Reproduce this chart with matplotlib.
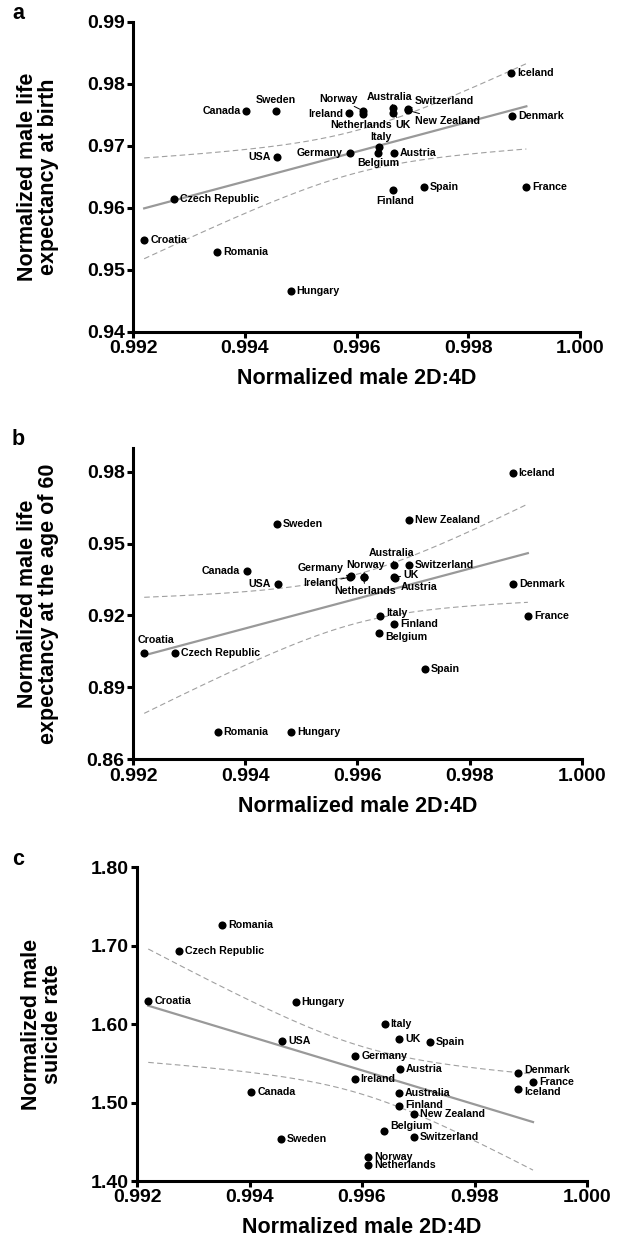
import numpy as np
import matplotlib
matplotlib.use('Agg')
import matplotlib.pyplot as plt

plt.rcParams['font.family'] = ['Liberation Sans', 'DejaVu Sans']
plt.rcParams['font.weight'] = 'bold'
plt.rcParams['axes.labelweight'] = 'bold'

countries = ['Croatia', 'Czech Republic', 'Romania', 'Canada', 'Sweden', 'USA',
             'Hungary', 'Ireland', 'Germany', 'Norway', 'Netherlands', 'Italy',
             'Belgium', 'Australia', 'UK', 'Austria', 'Finland', 'Switzerland',
             'New Zealand', 'Spain', 'Iceland', 'Denmark', 'France']

digit_ratio = [0.99220, 0.99274, 0.99351, 0.99403, 0.99456, 0.99458,
               0.99482, 0.99587, 0.99588, 0.99611, 0.99611, 0.99640,
               0.99639, 0.99666, 0.99666, 0.99667, 0.99666, 0.99692,
               0.99692, 0.99720, 0.99877, 0.99878, 0.99904]

life_birth = [0.95479, 0.96145, 0.95290, 0.97560, 0.97560, 0.96813,
              0.94656, 0.97523, 0.96887, 0.97566, 0.97511, 0.96984,
              0.96877, 0.97613, 0.97523, 0.96887, 0.96290, 0.97600,
              0.97570, 0.96334, 0.98177, 0.97484, 0.96334]

life_60 = [0.9045, 0.9045, 0.8715, 0.9386, 0.9582, 0.9331,
           0.8715, 0.9360, 0.9363, 0.9362, 0.9360, 0.9198,
           0.9128, 0.9409, 0.9360, 0.9358, 0.9165, 0.9411,
           0.9598, 0.8978, 0.9793, 0.9331, 0.9198]

suicide = [1.6296, 1.6927, 1.7267, 1.5134, 1.4539, 1.5782,
           1.6280, 1.5296, 1.5594, 1.4304, 1.4198, 1.6003,
           1.4641, 1.5126, 1.5807, 1.5428, 1.4960, 1.4556,
           1.4849, 1.5773, 1.5169, 1.5373, 1.5267]

x_ticks = [0.992, 0.994, 0.996, 0.998, 1.000]
ticks_a = [0.94, 0.95, 0.96, 0.97, 0.98, 0.99]
ticks_b = [0.86, 0.89, 0.92, 0.95, 0.98]
ticks_c = [1.40, 1.50, 1.60, 1.70, 1.80]

ylabel_a = 'Normalized male life\nexpectancy at birth'
ylabel_b = 'Normalized male life\nexpectancy at the age of 60'
ylabel_c = 'Normalized male\nsuicide rate'
xlabel = 'Normalized male 2D:4D'

# label placement: (dx px, dy px [down positive], ha, leader)
R = (6, 0, 'left', False)
lab_a = {
    'Canada': (-6, 0, 'right', False),
    'Sweden': (0, -11, 'center', False),
    'Norway': (-24, -12, 'center', True),
    'Ireland': (-6, 1, 'right', False),
    'Netherlands': (-2, 11, 'center', True),
    'Australia': (-4, -11, 'center', True),
    'UK': (10, 12, 'center', True),
    'Switzerland': (7, -8, 'left', True),
    'New Zealand': (7, 11, 'left', True),
    'Italy': (2, -10, 'center', False),
    'Germany': (-7, 0, 'right', False),
    'Belgium': (0, 10, 'center', False),
    'USA': (-6, 0, 'right', False),
    'Finland': (2, 11, 'center', False),
}
lab_b = {
    'Canada': (-7, 0, 'right', False),
    'USA': (-7, 0, 'right', False),
    'Australia': (-3, -12, 'center', True),
    'Germany': (-7, -8, 'right', True),
    'Norway': (2, -12, 'center', True),
    'Ireland': (-12, 6, 'right', True),
    'Netherlands': (2, 14, 'center', True),
    'UK': (9, -2, 'left', True),
    'Austria': (6, 9, 'left', True),
    'Italy': (6, -3, 'left', False),
    'Belgium': (6, 4, 'left', False),
    'Croatia': (-7, -13, 'left', False),
}
lab_c = {
    'Denmark': (6, -3, 'left', False),
    'Iceland': (6, 3, 'left', False),
    'Belgium': (6, -5, 'left', False),
    'Finland': (6, -1, 'left', False),
}

W, H = 644, 1250
fig = plt.figure(figsize=(W / 100, H / 100), dpi=100)


def add_axes(l, r, t, b):
    return fig.add_axes([l / W, 1 - b / H, (r - l) / W, (b - t) / H])


def ci_fit(x, y, xs):
    x = np.asarray(x)
    y = np.asarray(y)
    n = len(x)
    slope, icpt = np.polyfit(x, y, 1)
    resid = y - (icpt + slope * x)
    s = np.sqrt(np.sum(resid ** 2) / (n - 2))
    tval = 2.0796
    se = s * np.sqrt(1 / n + (xs - x.mean()) ** 2 / np.sum((x - x.mean()) ** 2))
    yf = icpt + slope * xs
    return yf, yf - tval * se, yf + tval * se


def panel(ax, yvals, yticks, ylim, ylabel, labs, letter):
    x = np.asarray(digit_ratio)
    y = np.asarray(yvals)
    xs = np.linspace(x.min(), x.max(), 200)
    yf, lo, hi = ci_fit(x, y, xs)
    ax.plot(xs, yf, color='#999999', lw=1.6, zorder=1)
    ax.plot(xs, lo, color='#a0a0a0', lw=0.8, ls=(0, (5, 3)), zorder=1)
    ax.plot(xs, hi, color='#a0a0a0', lw=0.8, ls=(0, (5, 3)), zorder=1)
    ax.scatter(x, y, s=34, color='black', zorder=3, linewidths=0)
    for c, xv, yv in zip(countries, x, y):
        dx, dy, ha, leader = labs.get(c, R)
        kw = {}
        if leader:
            kw['arrowprops'] = dict(arrowstyle='-', color='black', lw=0.7,
                                    shrinkA=0, shrinkB=2)
        ax.annotate(c, (xv, yv), xytext=(dx, -dy), textcoords='offset pixels',
                    ha=ha, va='center', fontsize=7.7, fontweight='bold',
                    zorder=4, **kw)
    ax.set_xlim(0.992, 1.000)
    ax.set_ylim(*ylim)
    ax.set_xticks(x_ticks)
    ax.set_xticklabels(['%.3f' % v for v in x_ticks])
    ax.set_yticks(yticks)
    ax.set_yticklabels(['%.2f' % v for v in yticks])
    for sp in ['top', 'right']:
        ax.spines[sp].set_visible(False)
    for sp in ['left', 'bottom']:
        ax.spines[sp].set_linewidth(2.2)
    ax.tick_params(direction='out', length=4, width=2.2, labelsize=14, pad=2)
    for t in ax.get_xticklabels() + ax.get_yticklabels():
        t.set_fontweight('bold')
    ax.set_xlabel(xlabel, fontsize=15.5, fontweight='bold', labelpad=8)
    ax.set_ylabel(ylabel, fontsize=15.5, fontweight='bold', linespacing=1.0)
    ax.yaxis.set_label_coords(-0.165, 0.5)
    pos = ax.get_position()
    fig.text(12 / W, pos.y1 + 8 / H, letter, fontsize=15.5, fontweight='bold',
             ha='left', va='center')


ax_a = add_axes(133, 580, 21.7, 331.7)
panel(ax_a, life_birth, ticks_a, (0.94, 0.99), ylabel_a, lab_a, 'a')
ax_b = add_axes(133, 581.7, 447.7, 759.3)
panel(ax_b, life_60, ticks_b, (0.86, 0.99), ylabel_b, lab_b, 'b')
ax_c = add_axes(137, 587, 867.3, 1181)
panel(ax_c, suicide, ticks_c, (1.40, 1.80), ylabel_c, lab_c, 'c')

fig.savefig('out.png', dpi=100)
